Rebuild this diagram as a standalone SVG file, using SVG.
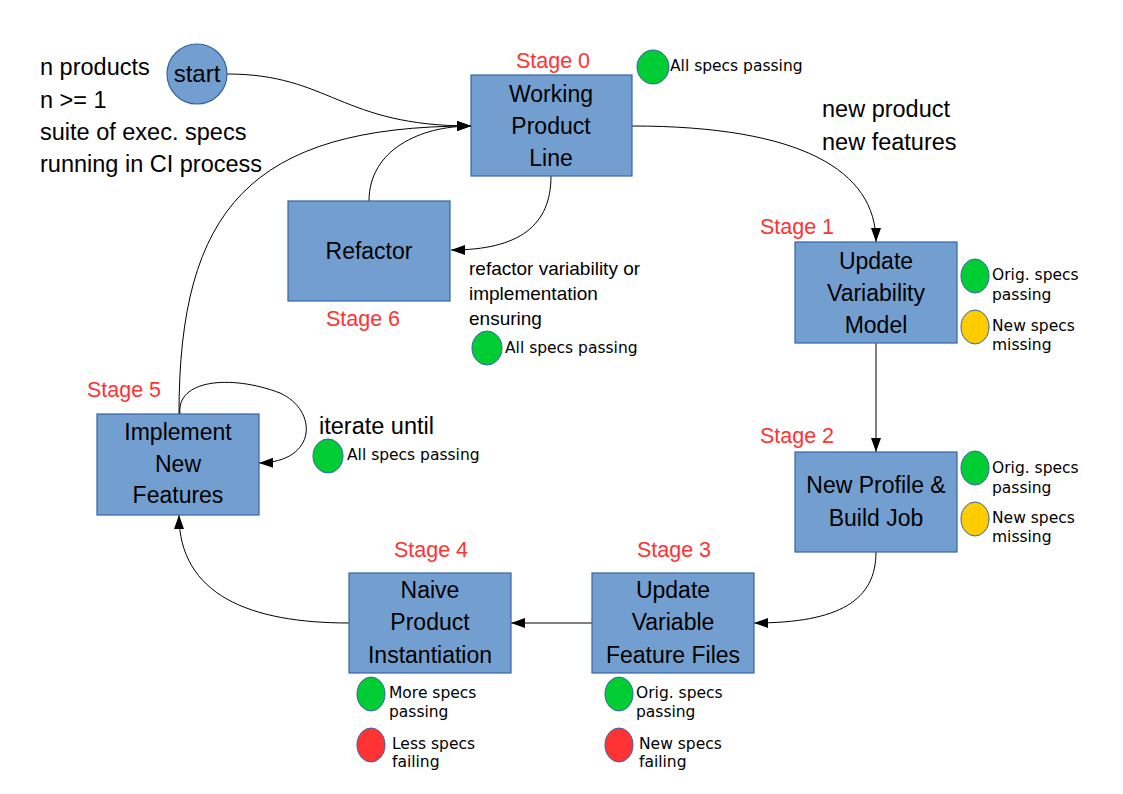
<svg xmlns="http://www.w3.org/2000/svg" width="1123" height="794" viewBox="0 0 1123 794">
<style>
.box{fill:#729fcf;stroke:#3465a4;stroke-width:1.2}
.bt{font-family:"Liberation Sans",Arial,sans-serif;font-size:23px;fill:#000;text-anchor:middle}
.st{font-family:"Liberation Sans",Arial,sans-serif;font-size:21.5px;fill:#ff3333;text-anchor:middle}
.lt{font-family:"Liberation Sans",Arial,sans-serif;font-size:23.5px;fill:#000}
.mt{font-family:"Liberation Sans",Arial,sans-serif;font-size:19px;fill:#000}
.sm{font-family:"DejaVu Sans",Verdana,sans-serif;font-size:15.5px;fill:#000}
.g{fill:#00cc33;stroke:#3465a4;stroke-width:1}
.y{fill:#ffcc00;stroke:#3465a4;stroke-width:1}
.r{fill:#ff3333;stroke:#3465a4;stroke-width:1}
.c{fill:none;stroke:#000;stroke-width:1}
</style>
<defs>
<marker id="ah" viewBox="0 0 14 10" refX="14" refY="5" markerWidth="14" markerHeight="10" markerUnits="userSpaceOnUse" orient="auto">
<path d="M0,0 L14,5 L0,10 Z" fill="#000"/>
</marker>
</defs>
<rect width="1123" height="794" fill="#fff"/>

<g id="connectors">
<path class="c" d="M227,74 C330,74 340,126 471,126" marker-end="url(#ah)"/>
<path class="c" d="M369,201 C369,150 420,126 471,126" marker-end="url(#ah)"/>
<path class="c" d="M179,414 C179,210 250,126 471,126" marker-end="url(#ah)"/>
<path class="c" d="M632,126 C800,126 876,170 876,242" marker-end="url(#ah)"/>
<path class="c" d="M551,176 C551,225 520,250 451,250" marker-end="url(#ah)"/>
<path class="c" d="M876,343 L876,452" marker-end="url(#ah)"/>
<path class="c" d="M876,552 C876,600 840,623 754,623" marker-end="url(#ah)"/>
<path class="c" d="M592,623 L511,623" marker-end="url(#ah)"/>
<path class="c" d="M349,623 C250,623 179,595 179,515" marker-end="url(#ah)"/>
<path class="c" d="M180,414 C176,380 230,374 280,393 C318,410 318,462 259,463" marker-end="url(#ah)"/>
</g>

<g id="notes">
<text class="lt" x="40" y="75">n products</text>
<text class="lt" x="40" y="108">n &gt;= 1</text>
<text class="lt" x="40" y="140">suite of exec. specs</text>
<text class="lt" x="40" y="172">running in CI process</text>
<text class="lt" x="822" y="117">new product</text>
<text class="lt" x="822" y="150">new features</text>
</g>

<g id="start">
<circle cx="197" cy="74" r="30" class="box"/>
<text class="bt" x="197" y="82" style="font-size:24px">start</text>
</g>

<g id="stage0">
<text class="st" x="553" y="68">Stage 0</text>
<rect class="box" x="471" y="75" width="161" height="101"/>
<text class="bt" x="551" y="102">Working</text>
<text class="bt" x="551" y="134">Product</text>
<text class="bt" x="551" y="166">Line</text>
<ellipse class="g" cx="653" cy="67" rx="16" ry="17"/>
<text class="sm" x="670" y="71">All specs passing</text>
</g>

<g id="stage1">
<text class="st" x="797" y="234">Stage 1</text>
<rect class="box" x="795" y="242" width="162" height="101"/>
<text class="bt" x="876" y="269">Update</text>
<text class="bt" x="876" y="301">Variability</text>
<text class="bt" x="876" y="333">Model</text>
<ellipse class="g" cx="975" cy="276" rx="14" ry="17"/>
<ellipse class="y" cx="975" cy="327" rx="14" ry="17"/>
<text class="sm" x="992" y="280">Orig. specs</text>
<text class="sm" x="992" y="300">passing</text>
<text class="sm" x="992" y="331">New specs</text>
<text class="sm" x="992" y="350">missing</text>
</g>

<g id="stage2">
<text class="st" x="797" y="443">Stage 2</text>
<rect class="box" x="795" y="452" width="162" height="100"/>
<text class="bt" x="876" y="493">New Profile &amp;</text>
<text class="bt" x="876" y="526">Build Job</text>
<ellipse class="g" cx="975" cy="468" rx="14" ry="17"/>
<ellipse class="y" cx="975" cy="519" rx="14" ry="17"/>
<text class="sm" x="992" y="473">Orig. specs</text>
<text class="sm" x="992" y="493">passing</text>
<text class="sm" x="992" y="523">New specs</text>
<text class="sm" x="992" y="542">missing</text>
</g>

<g id="stage3">
<text class="st" x="674" y="557">Stage 3</text>
<rect class="box" x="592" y="573" width="162" height="100"/>
<text class="bt" x="673" y="598">Update</text>
<text class="bt" x="673" y="630">Variable</text>
<text class="bt" x="673" y="663">Feature Files</text>
<ellipse class="g" cx="619" cy="694" rx="14" ry="17"/>
<ellipse class="r" cx="619" cy="745" rx="14" ry="17"/>
<text class="sm" x="636" y="698">Orig. specs</text>
<text class="sm" x="636" y="717">passing</text>
<text class="sm" x="639" y="749">New specs</text>
<text class="sm" x="639" y="767">failing</text>
</g>

<g id="stage4">
<text class="st" x="431" y="557">Stage 4</text>
<rect class="box" x="349" y="573" width="162" height="100"/>
<text class="bt" x="430" y="598">Naive</text>
<text class="bt" x="430" y="630">Product</text>
<text class="bt" x="430" y="663">Instantiation</text>
<ellipse class="g" cx="371" cy="694" rx="14" ry="17"/>
<ellipse class="r" cx="371" cy="745" rx="14" ry="17"/>
<text class="sm" x="389" y="698">More specs</text>
<text class="sm" x="389" y="717">passing</text>
<text class="sm" x="392" y="749">Less specs</text>
<text class="sm" x="392" y="767">failing</text>
</g>

<g id="stage5">
<text class="st" x="124" y="397">Stage 5</text>
<rect class="box" x="97" y="414" width="162" height="101"/>
<text class="bt" x="178" y="440">Implement</text>
<text class="bt" x="178" y="472">New</text>
<text class="bt" x="178" y="503">Features</text>
<text class="lt" x="319" y="434">iterate until</text>
<ellipse class="g" cx="328" cy="456" rx="15" ry="17"/>
<text class="sm" x="347" y="460">All specs passing</text>
</g>

<g id="stage6">
<rect class="box" x="288" y="201" width="162" height="100"/>
<text class="bt" x="369" y="259">Refactor</text>
<text class="st" x="363" y="326">Stage 6</text>
<text class="mt" x="469" y="275">refactor variability or</text>
<text class="mt" x="469" y="300">implementation</text>
<text class="mt" x="469" y="325">ensuring</text>
<ellipse class="g" cx="487" cy="348" rx="15" ry="17"/>
<text class="sm" x="505" y="353">All specs passing</text>
</g>
</svg>
